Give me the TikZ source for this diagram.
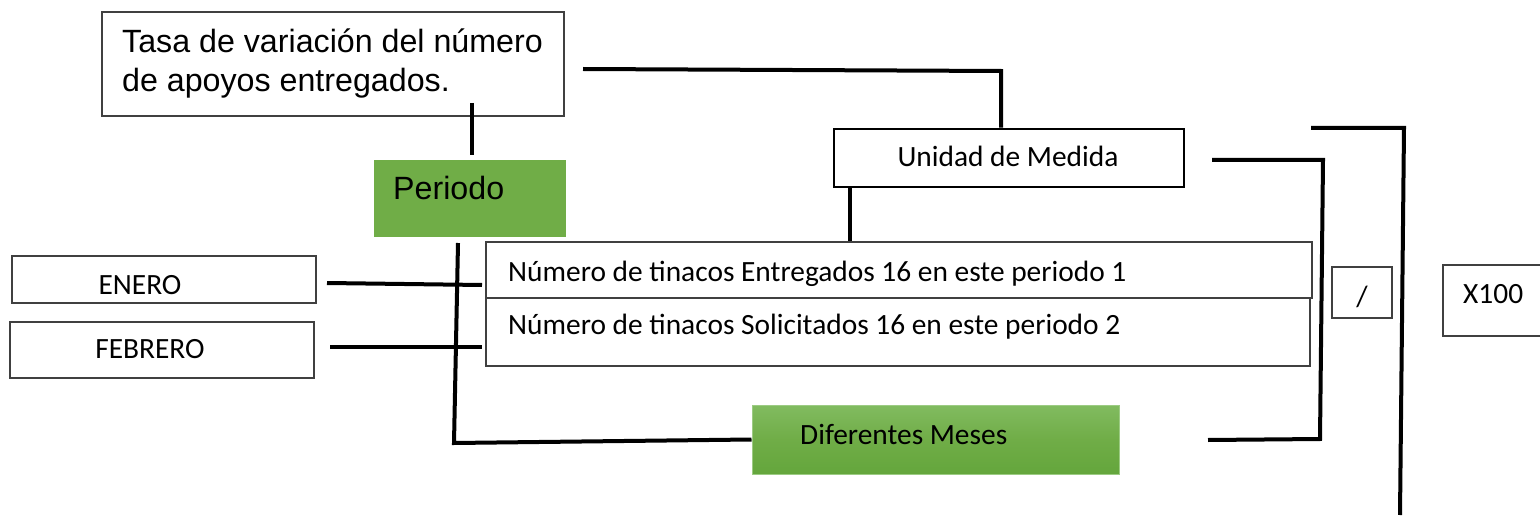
\documentclass[tikz,border=0pt]{standalone}
\usepackage{fontspec}
\setmainfont{Carlito}
\newfontfamily\arialf{Liberation Sans}
\definecolor{pgreen}{HTML}{70AD47}
\definecolor{gtop}{HTML}{81BB60}
\definecolor{gmid}{HTML}{70AD47}
\definecolor{gbot}{HTML}{64A63C}
\definecolor{gedge}{HTML}{9CCB83}
\definecolor{bgray}{HTML}{404040}
\begin{document}
\begin{tikzpicture}[x=1pt,y=-1pt,
  boxa/.style={draw=bgray,line width=1.4pt,inner sep=0pt,rectangle},
  boxb/.style={draw=black,line width=2.6pt,inner sep=0pt,rectangle},
  gbox/.style={fill=pgreen,inner sep=0pt,rectangle},
  conn/.style={draw=black,line width=4pt},
  ctext/.style={font=\fontsize{29.4}{34}\selectfont,inner sep=0pt},
  atext/.style={font=\arialf\fontsize{32.2}{38}\selectfont,inner sep=0pt}]
\useasboundingbox (0,0) rectangle (1540,516);
\fill[white] (0,0) rectangle (1540,516);
% boxes
\node[boxa,minimum width=462,minimum height=104] (tasa) at (333,64) {};
\node[gbox,minimum width=192,minimum height=77] (periodo) at (470,198.5) {};
\node[boxb,minimum width=350,minimum height=58] (unidad) at (1009,158) {};
\node[boxa,minimum width=826,minimum height=56] (num1) at (899,270) {};
\node[boxa,minimum width=824,minimum height=68] (num2) at (898,332) {};
\node[boxa,minimum width=304,minimum height=47] (enero) at (164,279.5) {};
\node[boxa,minimum width=304,minimum height=56] (febrero) at (162,350) {};
\node[draw=gedge,line width=1pt,inner sep=0pt,minimum width=367,minimum height=69,
  top color=gtop,bottom color=gbot,middle color=gmid] (dif) at (935.5,439.5) {};
\node[boxa,minimum width=60,minimum height=51] (slash) at (1362,292.5) {};
\node[boxa,minimum width=99,minimum height=71] (xcien) at (1492.5,300.5) {};
% texts
\node[atext,anchor=base west] (t1) at (122,53) {Tasa de variación del número};
\node[atext,anchor=base west] (t2) at (122,92) {de apoyos entregados.};
\node[atext,anchor=base west] (tp) at (393,199) {Periodo};
\node[ctext,anchor=base] (tu) at (1008,167) {Unidad de Medida};
\node[ctext,anchor=base west] (tn1) at (508,281) {Número de tinacos Entregados 16 en este periodo 1};
\node[ctext,anchor=base west] (tn2) at (508,334) {Número de tinacos Solicitados 16 en este periodo 2};
\node[ctext,anchor=base] (te) at (140,294) {ENERO};
\node[ctext,anchor=base] (tf) at (150,358) {FEBRERO};
\node[ctext,anchor=base west] (td) at (800,444) {Diferentes Meses};
\node[ctext,anchor=base] (ts) at (1362,306) {/};
\node[ctext,anchor=base west] (tx) at (1463,303) {X100};
% connector end points
\coordinate (a1) at (472,103);
\coordinate (a2) at (472,155);
\coordinate (b1) at (583,69);
\coordinate (b2) at (1001,71);
\coordinate (c1) at (327,283);
\coordinate (c2) at (482,285);
\coordinate (d1) at (330,347);
\coordinate (d2) at (482,347);
\coordinate (e1) at (458,243);
\coordinate (e2) at (454,443);
\coordinate (f1) at (1212,160);
\coordinate (f2) at (1323,160);
\coordinate (f3) at (1320,439);
\coordinate (f4) at (1208,440);
\coordinate (g1) at (1311,128);
\coordinate (g2) at (1404,128);
\coordinate (g3) at (1400,515);
% connectors
\draw[conn] (a1) -- (a2);
\draw[conn] (b1) -- (b2) -- (b2 |- unidad.north);
\draw[conn] (unidad.south -| 850,0) -- (num1.north -| 850,0);
\draw[conn] (c1) -- (c2);
\draw[conn] (d1) -- (d2);
\draw[conn] (e1) -- (e2) -- (dif.west);
\draw[conn] (f1) -- (f2) -- (f3) -- (f4);
\draw[conn] (g1) -- (g2) -- (g3);
\end{tikzpicture}
\end{document}
